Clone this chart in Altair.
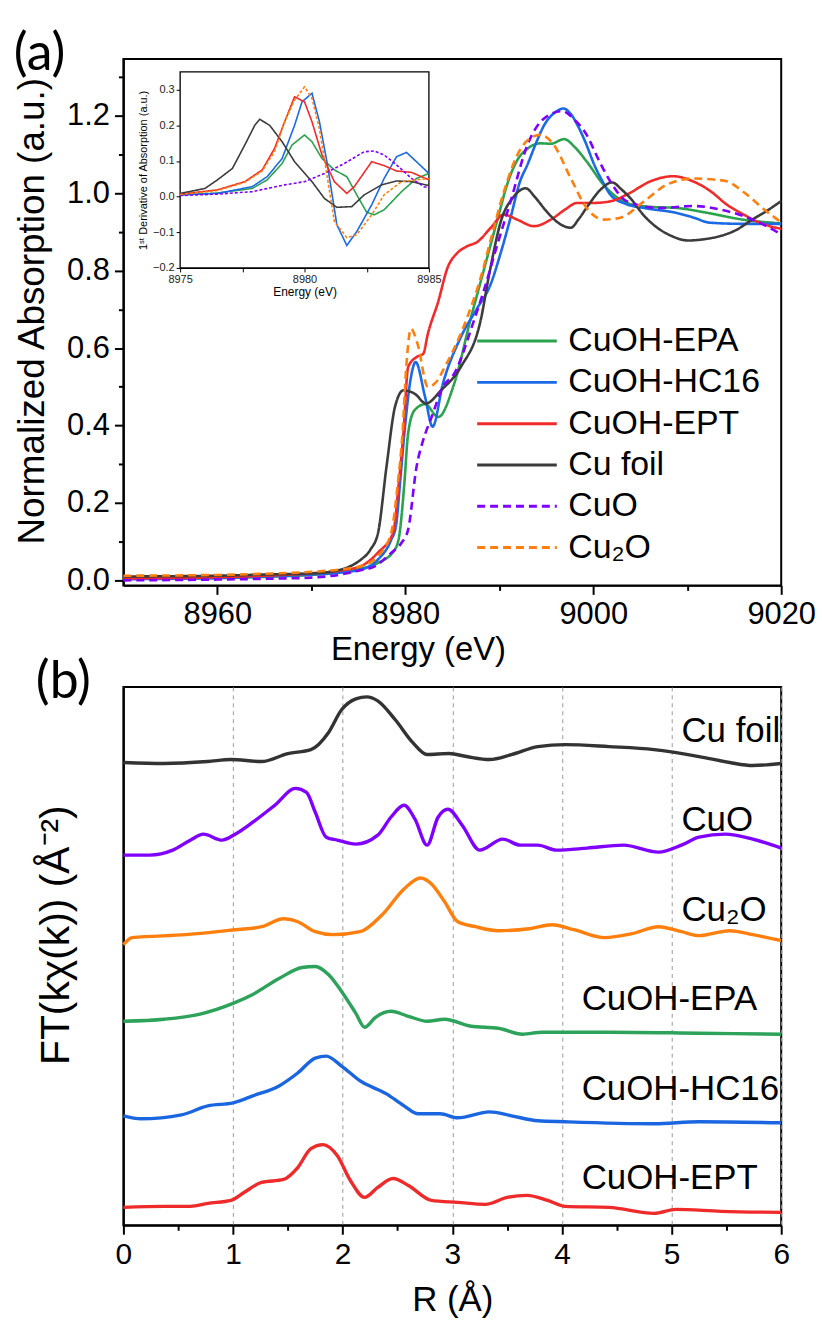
import altair as alt
import pandas as pd

FONT = "Liberation Sans"

# ---------------- panel (a): normalized XANES ----------------
names_a = ["CuOH-EPA", "CuOH-HC16", "CuOH-EPT", "Cu foil", "CuO", "Cu₂O"]
colors_a = ["#2ba24c", "#1a6ae6", "#f22a2a", "#3c3c3c", "#7f00ff", "#ff7f0e"]
dash_a = [[1, 0], [1, 0], [1, 0], [1, 0], [8, 5], [8, 5]]

epa_E = [8950, 8960, 8965, 8970, 8973, 8975.3, 8977.1, 8978.9, 8979.4, 8979.9, 8980.3, 8981.0, 8982.1, 8983.5,
         8985.2, 8987.0, 8988.0, 8989.0, 8990.0, 8990.8, 8991.9, 8993.0, 8994.4, 8995.5, 8996.9, 8998.0, 8999.3,
         9001.1, 9003.6, 9006.0, 9008.9, 9012.0, 9015.9, 9020]
epa_v = [0.004, 0.006, 0.009, 0.014, 0.02, 0.03, 0.045, 0.08, 0.123, 0.251, 0.38, 0.44, 0.455, 0.422,
         0.508, 0.68, 0.77, 0.86, 0.95, 1.02, 1.085, 1.115, 1.129, 1.128, 1.14, 1.12, 1.082,
         1.022, 0.975, 0.965, 0.962, 0.95, 0.932, 0.922]

hc16_E = [8950, 8960, 8965, 8970, 8973, 8975.3, 8977.1, 8978.5, 8979.0, 8979.5, 8979.9, 8980.6, 8981.1, 8982.1,
          8982.9, 8984.0, 8985.9, 8987.7, 8989.0, 8990.2, 8991.2, 8992.2, 8993.0, 8994.0, 8994.8, 8996.0, 8996.8,
          8997.6, 8998.3, 8999.2, 9000.1, 9001.0, 9001.8, 9003.5, 9005.4, 9008.9, 9010.7, 9012.4, 9015.9, 9020]
hc16_v = [0.003, 0.006, 0.01, 0.015, 0.02, 0.028, 0.054, 0.105, 0.14, 0.27, 0.38, 0.525, 0.564, 0.474,
          0.397, 0.508, 0.628, 0.705, 0.76, 0.85, 0.937, 1.03, 1.074, 1.135, 1.177, 1.21, 1.219,
          1.205, 1.177, 1.13, 1.074, 1.03, 0.997, 0.972, 0.962, 0.949, 0.937, 0.924, 0.921, 0.921]

ept_E = [8950, 8960, 8965, 8970, 8973, 8975.3, 8977.1, 8978.7, 8979.3, 8979.8, 8980.3, 8981.2, 8981.9, 8982.4,
         8983.5, 8984.5, 8985.5, 8986.5, 8987.7, 8989.1, 8990.5, 8991.9, 8993.7, 8995.5, 8997.0, 8998.3, 9000.0,
         9001.8, 9003.6, 9006.1, 9008.5, 9010.6, 9012.5, 9014.2, 9016.0, 9017.7, 9020]
ept_v = [0.005, 0.008, 0.012, 0.018, 0.025, 0.037, 0.072, 0.123, 0.25, 0.38, 0.551, 0.577, 0.585, 0.637,
         0.72, 0.808, 0.845, 0.862, 0.875, 0.911, 0.945, 0.932, 0.915, 0.932, 0.958, 0.975, 0.975,
         0.979, 0.997, 1.031, 1.044, 1.031, 1.005, 0.971, 0.945, 0.924, 0.908]

foil_E = [8950, 8960, 8965, 8970, 8972, 8975.3, 8976.3, 8977.1, 8978.0, 8978.9, 8979.8, 8981.0, 8982.2, 8983.8,
          8985.9, 8988.0, 8989.0, 8990.2, 8991.5, 8992.8, 8993.8, 8994.9, 8996.2, 8997.6, 8998.5, 8999.5, 9000.8,
          9002.0, 9003.0, 9004.1, 9005.3, 9006.6, 9008.3, 9010.1, 9012.0, 9013.6, 9015.2, 9016.8, 9018.5, 9020]
foil_v = [0.010, 0.012, 0.015, 0.018, 0.022, 0.054, 0.08, 0.123, 0.294, 0.448, 0.491, 0.482, 0.457, 0.491,
          0.551, 0.67, 0.80, 0.93, 0.99, 1.013, 0.99, 0.957, 0.925, 0.911, 0.935, 0.97, 1.01,
          1.028, 1.01, 0.983, 0.945, 0.915, 0.89, 0.878, 0.882, 0.89, 0.905, 0.93, 0.955, 0.98]

cuo_E = [8950, 8960, 8965, 8970, 8972, 8975, 8976.8, 8978.5, 8979.6, 8980.3, 8981.2, 8981.9, 8982.8, 8984.0,
         8985.2, 8987.3, 8988.5, 8989.7, 8991.2, 8993.0, 8994.8, 8996.7, 8998.0, 8999.3, 9000.5, 9001.8, 9003.6,
         9007.1, 9010.6, 9014.2, 9017.7, 9020]
cuo_v = [0.0, 0.002, 0.004, 0.007, 0.011, 0.025, 0.037, 0.071, 0.097, 0.131, 0.294, 0.362, 0.422, 0.5,
         0.534, 0.671, 0.76, 0.86, 0.979, 1.125, 1.194, 1.212, 1.19, 1.151, 1.09, 1.031, 0.979,
         0.962, 0.967, 0.954, 0.924, 0.894]

cu2o_E = [8950, 8960, 8965, 8970, 8973, 8975.3, 8977.1, 8978.5, 8979.2, 8979.7, 8980.1, 8980.6, 8981.3, 8982.4,
          8983.2, 8984.2, 8986.6, 8988.0, 8989.2, 8990.5, 8992.3, 8993.5, 8994.4, 8995.8, 8997.6, 8999.3, 9001.1,
          9002.9, 9005.4, 9007.8, 9010.6, 9012.5, 9014.2, 9015.9, 9018.4, 9020]
cu2o_v = [0.012, 0.014, 0.017, 0.022, 0.028, 0.037, 0.063, 0.123, 0.25, 0.38, 0.551, 0.65, 0.611, 0.5,
          0.51, 0.551, 0.68, 0.78, 0.89, 1.005, 1.116, 1.145, 1.151, 1.125, 1.039, 0.962, 0.932,
          0.937, 0.979, 1.022, 1.038, 1.036, 1.031, 1.005, 0.954, 0.925]

# ---------------- inset: first derivative ----------------
d_epa_E = [8975, 8976.5, 8977.9, 8978.5, 8979.1, 8979.5, 8980.0, 8980.3, 8980.7, 8981.2, 8981.7, 8982.1, 8982.5,
           8982.8, 8983.2, 8983.9, 8984.5, 8985]
d_epa_v = [0.005, 0.01, 0.023, 0.047, 0.093, 0.145, 0.173, 0.154, 0.107, 0.075, 0.056, 0.005, -0.044,
           -0.051, -0.037, 0.014, 0.051, 0.065]
d_hc16_E = [8975, 8976.5, 8977.9, 8978.5, 8979.1, 8979.6, 8979.9, 8980.3, 8980.6, 8980.9, 8981.3, 8981.7, 8982.1,
            8982.7, 8983.2, 8983.7, 8984.1, 8984.5, 8985]
d_hc16_v = [0.005, 0.009, 0.028, 0.056, 0.107, 0.20, 0.266, 0.29, 0.21, 0.098, -0.079, -0.137, -0.098,
            -0.023, 0.051, 0.112, 0.124, 0.098, 0.065]
d_ept_E = [8975, 8976.5, 8977.6, 8978.3, 8978.8, 8979.2, 8979.6, 8980.0, 8980.3, 8980.7, 8981.2, 8981.7, 8982.0,
           8982.7, 8983.2, 8983.7, 8984.3, 8985]
d_ept_v = [0.007, 0.019, 0.042, 0.075, 0.136, 0.21, 0.28, 0.266, 0.21, 0.117, 0.042, 0.009, 0.028,
           0.098, 0.087, 0.072, 0.068, 0.047]
d_foil_E = [8975, 8976.0, 8976.5, 8977.1, 8977.6, 8978.0, 8978.2, 8978.6, 8979.1, 8979.6, 8980.3, 8980.8, 8981.3,
            8981.9, 8982.4, 8983.1, 8983.7, 8984.3, 8985]
d_foil_v = [0.009, 0.023, 0.047, 0.079, 0.145, 0.20, 0.217, 0.20, 0.154, 0.098, 0.042, -0.005, -0.03,
            -0.028, 0.005, 0.033, 0.044, 0.042, 0.031]
d_cuo_E = [8975, 8976.5, 8977.9, 8979.2, 8980.0, 8980.8, 8981.6, 8982.4, 8982.8, 8983.2, 8983.7, 8984.3, 8984.8,
           8985]
d_cuo_v = [0.003, 0.007, 0.014, 0.033, 0.042, 0.065, 0.093, 0.126, 0.128, 0.117, 0.089, 0.051, 0.028, 0.025]
d_cu2o_E = [8975, 8976.5, 8977.6, 8978.3, 8978.8, 8979.2, 8979.6, 8980.0, 8980.3, 8980.6, 8980.9, 8981.2, 8981.7,
            8982.1, 8982.7, 8983.2, 8983.9, 8985]
d_cu2o_v = [0.006, 0.017, 0.04, 0.072, 0.127, 0.21, 0.271, 0.308, 0.276, 0.19, 0.061, -0.07, -0.115,
            -0.107, -0.051, 0.005, 0.042, 0.051]

# ---------------- panel (b): Fourier transforms (stacked, offset) ----------------
names_b = ["Cu foil", "CuO", "Cu₂O", "CuOH-EPA", "CuOH-HC16", "CuOH-EPT"]
colors_b = ["#333333", "#8000ff", "#ff7f0e", "#2ca25a", "#1a66e0", "#ee2a2a"]

foil_R = [0, 0.37, 0.77, 0.98, 1.26, 1.5, 1.71, 1.87, 1.99, 2.12, 2.22, 2.32, 2.48, 2.64, 2.77, 2.97, 3.13, 3.34,
          3.54, 3.78, 4.03, 4.43, 4.84, 5.25, 5.53, 5.74, 6.0]
foil_F = [465, 464, 466, 468, 466, 474, 478, 495, 518, 529, 531, 527, 508, 485, 473, 474, 471, 468,
          473, 481, 483, 481, 478, 471, 465, 462, 464]
cuo_R = [0, 0.24, 0.45, 0.61, 0.73, 0.9, 1.02, 1.18, 1.38, 1.57, 1.67, 1.75, 1.85, 1.95, 2.12, 2.32, 2.44, 2.56,
         2.66, 2.77, 2.87, 2.96, 3.09, 3.25, 3.46, 3.62, 3.78, 3.95, 4.23, 4.56, 4.88, 5.09, 5.25, 5.49, 5.74, 6.0]
cuo_F = [372, 372, 377, 387, 393, 387, 393, 405, 422, 439, 435, 415, 390, 387, 383, 392, 410, 422,
         408, 382, 410, 418, 402, 377, 388, 382, 382, 377, 379, 382, 375, 382, 390, 393, 388, 379]
cu2o_R = [0, 0.08, 0.57, 1.02, 1.26, 1.46, 1.59, 1.75, 1.91, 2.16, 2.36, 2.56, 2.71, 2.81, 2.93, 3.05, 3.21,
          3.42, 3.7, 3.91, 4.11, 4.39, 4.64, 4.88, 5.09, 5.25, 5.53, 5.74, 6.0]
cu2o_F = [282, 289, 292, 297, 300, 308, 305, 295, 292, 295, 312, 338, 349, 343, 325, 305, 300,
          296, 298, 302, 297, 289, 293, 300, 295, 291, 296, 292, 286]
epa_R = [0, 0.37, 0.69, 1.0, 1.18, 1.42, 1.63, 1.75, 1.87, 1.99, 2.12, 2.2, 2.3, 2.44, 2.6, 2.77, 2.93, 3.17,
         3.42, 3.64, 3.82, 4.43, 5.25, 6.0]
epa_F = [205, 207, 212, 223, 232, 248, 259, 260, 252, 235, 213, 199, 209, 215, 210, 205, 207, 200,
         198, 192, 194, 194, 193, 192]
hc16_R = [0, 0.16, 0.53, 0.77, 1.0, 1.18, 1.42, 1.59, 1.75, 1.85, 1.99, 2.16, 2.4, 2.56, 2.69, 2.89, 3.05, 3.34,
          3.54, 3.78, 4.03, 4.84, 5.25, 6.0]
hc16_F = [110, 107, 111, 120, 123, 130, 140, 153, 168, 170, 160, 145, 132, 120, 112, 112, 108, 114,
          110, 105, 104, 102, 104, 103]
ept_R = [0, 0.37, 0.61, 0.77, 0.98, 1.1, 1.26, 1.46, 1.59, 1.71, 1.82, 1.95, 2.07, 2.2, 2.32, 2.46, 2.6, 2.81,
         3.05, 3.3, 3.5, 3.68, 3.87, 4.03, 4.43, 4.84, 5.04, 5.45, 6.0]
ept_F = [18, 19, 19, 22, 25, 33, 43, 46, 58, 77, 81, 70, 45, 28, 38, 47, 40, 25,
         23, 21, 28, 30, 25, 19, 18, 12, 16, 14, 13]

label_text_b = ["Cu foil", "CuO", "Cu₂O", "CuOH-EPA", "CuOH-HC16", "CuOH-EPT"]
label_R_b = [5.09, 5.09, 5.09, 4.18, 4.18, 4.18]
label_F_b = [497, 407, 317, 227, 137, 47]


def long_df(names, xs, ys, xname, yname, sname="series"):
    rows = []
    for n, X, Y in zip(names, xs, ys):
        for a, b in zip(X, Y):
            rows.append({xname: a, yname: b, sname: n})
    return pd.DataFrame(rows)


df_a = long_df(names_a, [epa_E, hc16_E, ept_E, foil_E, cuo_E, cu2o_E],
               [epa_v, hc16_v, ept_v, foil_v, cuo_v, cu2o_v], "E", "v")
df_i = long_df(names_a, [d_epa_E, d_hc16_E, d_ept_E, d_foil_E, d_cuo_E, d_cu2o_E],
               [d_epa_v, d_hc16_v, d_ept_v, d_foil_v, d_cuo_v, d_cu2o_v], "E", "d", "iseries")
df_b = long_df(names_b, [foil_R, cuo_R, cu2o_R, epa_R, hc16_R, ept_R],
               [foil_F, cuo_F, cu2o_F, epa_F, hc16_F, ept_F], "R", "F")
df_lab = pd.DataFrame({"R": label_R_b, "F": label_F_b, "label": label_text_b})

W = 661
HA = 529
HB = 541

# ---- panel (a) main ----
xa_scale = alt.Scale(domain=[8950, 9020], nice=False, zero=False)
ya_scale = alt.Scale(domain=[-0.013, 1.347], nice=False, zero=False)

legend_a = alt.Legend(orient="none", legendX=374, legendY=262, symbolType="M-2,0L2,0", symbolSize=1600,
                      symbolStrokeWidth=3, labelFontSize=34, labelFont=FONT, labelColor="black",
                      rowPadding=2.5, labelOffset=30, padding=0, labelLimit=0)

main_a = alt.Chart(df_a).mark_line(strokeWidth=2.6, interpolate="monotone").encode(
    x=alt.X("E:Q", scale=xa_scale, title="Energy (eV)",
            axis=alt.Axis(values=[8960, 8980, 9000, 9020], format="d", labelFontSize=31, titleFontSize=33,
                          tickSize=9, labelPadding=5, titlePadding=4, grid=False, labelFlush=False,
                          titleX=296)),
    y=alt.Y("v:Q", scale=ya_scale, title="Normalized Absorption (a.u.)",
            axis=alt.Axis(values=[0, 0.2, 0.4, 0.6, 0.8, 1.0, 1.2], format=".1f", labelFontSize=31,
                          titleFontSize=37, tickSize=9, labelPadding=5, titlePadding=15, grid=False,
                          titleY=253)),
    color=alt.Color("series:N", title=None, scale=alt.Scale(domain=names_a, range=colors_a), legend=legend_a),
    strokeDash=alt.StrokeDash("series:N", title=None, scale=alt.Scale(domain=names_a, range=dash_a),
                              legend=legend_a),
)

minor_a = alt.Chart(pd.DataFrame({"E": [8970], "v": [0.1]})).mark_point(opacity=0).encode(
    x=alt.X("E:Q", scale=xa_scale, title=None,
            axis=alt.Axis(values=[8970, 8990, 9010], labels=False, domain=False, tickSize=5, grid=False,
                          orient="bottom")),
    y=alt.Y("v:Q", scale=ya_scale, title=None,
            axis=alt.Axis(values=[0.1, 0.3, 0.5, 0.7, 0.9, 1.1, 1.3], labels=False, domain=False, tickSize=5,
                          grid=False, orient="left")),
)

# ---- inset ----
xi_scale = alt.Scale(domain=[8975, 8985], range=[57, 307], nice=False, zero=False)
yi_scale = alt.Scale(domain=[-0.2, 0.35], range=[210, 13], nice=False, zero=False)
ax_ix = alt.Axis(values=[8975, 8977.5, 8980, 8982.5, 8985], orient="bottom", offset=-319,
                 labelExpr="datum.value % 5 === 0 ? format(datum.value, 'd') : ''",
                 labelFontSize=11, labelColor="#222222", tickSize=4, tickWidth=1, domainWidth=1.2,
                 titleFontSize=12, titlePadding=2, labelPadding=2, grid=False, labelFlush=False)
ax_iy = alt.Axis(values=[-0.2, -0.1, 0, 0.1, 0.2, 0.3], orient="left", offset=-57, format=".1f",
                 labelFontSize=11, labelColor="#222222", tickSize=4, tickWidth=1, domainWidth=1.2,
                 titleFontSize=11, titlePadding=4, labelPadding=2, grid=False)

inset_frame = alt.Chart(pd.DataFrame({"x0": [8975], "x1": [8985], "y0": [-0.2], "y1": [0.35]})).mark_rect(
    fill="white", stroke="black", strokeWidth=1.3).encode(
    x=alt.X("x0:Q", scale=xi_scale, axis=ax_ix, title="Energy (eV)"),
    x2="x1:Q",
    y=alt.Y("y0:Q", scale=yi_scale, axis=ax_iy, title="1ˢᵗ Derivative of Absorption (a.u.)"),
    y2="y1:Q",
)
inset_lines = alt.Chart(df_i).mark_line(strokeWidth=1.6).encode(
    x=alt.X("E:Q", scale=xi_scale, axis=ax_ix, title="Energy (eV)"),
    y=alt.Y("d:Q", scale=yi_scale, axis=ax_iy, title="1ˢᵗ Derivative of Absorption (a.u.)"),
    color=alt.Color("iseries:N", scale=alt.Scale(domain=names_a, range=colors_a), legend=None),
    strokeDash=alt.StrokeDash("iseries:N", scale=alt.Scale(domain=names_a,
                                                          range=[[1, 0]] * 4 + [[3, 2], [3, 2]]), legend=None),
)
inset = alt.layer(inset_frame, inset_lines)

panel_a = alt.layer(main_a, minor_a, inset).resolve_scale(
    x="independent", y="independent", color="independent", strokeDash="independent"
).properties(
    width=W, height=HA,
    title=alt.TitleParams("(a)", anchor="start", frame="bounds", fontSize=52, font="Lato",
                          fontWeight="normal", color="black", offset=-22),
)

# ---- panel (b) ----
xb_scale = alt.Scale(domain=[0, 6], nice=False, zero=False)
yb_scale = alt.Scale(domain=[0, HB], nice=False, zero=False)
ax_xb = alt.Axis(values=[0, 1, 2, 3, 4, 5, 6], format="d", grid=True, gridDash=[4, 4], gridColor="#9a9a9a",
                 gridWidth=1, labelFontSize=30, titleFontSize=35, tickSize=9, labelPadding=5, titlePadding=14,
                 labelFlush=False)
ax_yb = alt.Axis(labels=False, ticks=False, grid=False, titleFontSize=41, titlePadding=46, titleY=249)

lines_b = alt.Chart(df_b).mark_line(strokeWidth=3.4, interpolate="monotone").encode(
    x=alt.X("R:Q", scale=xb_scale, axis=ax_xb, title="R (Å)"),
    y=alt.Y("F:Q", scale=yb_scale, axis=ax_yb, title="FT(kχ(k)) (Å⁻²)"),
    color=alt.Color("series:N", scale=alt.Scale(domain=names_b, range=colors_b), legend=None),
)
text_b = alt.Chart(df_lab).mark_text(align="left", baseline="middle", fontSize=35, font=FONT,
                                     color="black").encode(
    x=alt.X("R:Q", scale=xb_scale, axis=ax_xb, title="R (Å)"),
    y=alt.Y("F:Q", scale=yb_scale, axis=ax_yb, title="FT(kχ(k)) (Å⁻²)"),
    text="label:N",
)
minor_b = alt.Chart(pd.DataFrame({"R": [0.5]})).mark_point(opacity=0).encode(
    x=alt.X("R:Q", scale=xb_scale, title=None,
            axis=alt.Axis(values=[0.5, 1.5, 2.5, 3.5, 4.5, 5.5], labels=False, domain=False, tickSize=5,
                          grid=False, orient="bottom")),
)

panel_b = alt.layer(alt.layer(lines_b, text_b), minor_b).resolve_scale(x="independent").properties(
    width=W, height=HB,
    title=alt.TitleParams("(b)", anchor="start", frame="bounds", fontSize=52, font="Lato",
                          fontWeight="normal", color="black", offset=-22),
)

chart = alt.vconcat(panel_a, panel_b, spacing=-12).properties(
    padding={"left": 12, "top": 24, "right": 5, "bottom": 5}
).configure_view(stroke="black", strokeWidth=2).configure_axis(
    domainColor="black", domainWidth=2, tickColor="black", tickWidth=2, labelColor="black", titleColor="black",
    labelFont=FONT, titleFont=FONT, titleFontWeight="normal"
).configure_title(font="Lato")

chart.save("out.html", embed_options={"renderer": "svg", "actions": False})
